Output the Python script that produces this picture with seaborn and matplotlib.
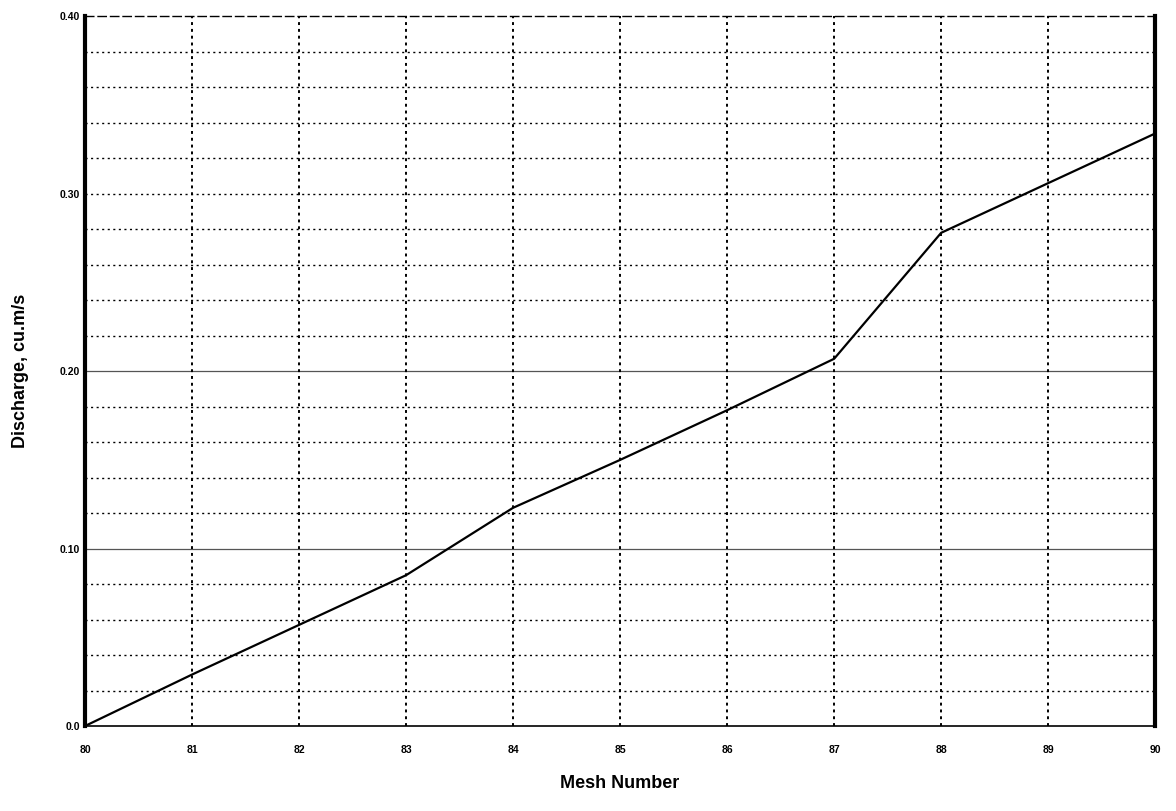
import numpy as np
import pandas as pd
import seaborn as sns
from matplotlib import pyplot as plt

sns.set_style("white")
plt.rcParams["font.family"] = ["Liberation Sans", "DejaVu Sans"]
plt.rcParams["text.color"] = "black"
plt.rcParams["axes.labelcolor"] = "black"
plt.rcParams["xtick.color"] = "black"
plt.rcParams["ytick.color"] = "black"

# values
mesh = [80, 81, 82, 83, 84, 85, 86, 87, 88, 89, 90]
discharge = [0.0, 0.029, 0.057, 0.085, 0.123, 0.150, 0.178, 0.207, 0.278, 0.306, 0.334]
ytick_vals = [0.0, 0.10, 0.20, 0.30, 0.40]
ytick_labels = ["0.0", "0.10", "0.20", "0.30", "0.40"]

df = pd.DataFrame({"Mesh Number": mesh, "Discharge": discharge})

fig = plt.figure(figsize=(11.76, 8.11), dpi=100)
ax = fig.add_axes([0.0723, 0.1048, 0.91, 0.875])

# grid: dotted minor lines every 0.02, solid at 0.10 and 0.20
for y in np.arange(0.02, 0.40, 0.02):
    if abs(y - 0.1) < 1e-6 or abs(y - 0.2) < 1e-6:
        ax.axhline(y, color="#555555", lw=0.9, zorder=1)
    else:
        ax.axhline(y, color="black", lw=1.0, ls=(0, (1.5, 2.5)), zorder=1)
for x in mesh[1:-1]:
    ax.axvline(x, color="black", lw=1.4, ls=(0, (1.5, 2.0)), zorder=1)

sns.lineplot(data=df, x="Mesh Number", y="Discharge", color="black", lw=1.6, ax=ax, zorder=3)

ax.set_xlim(80, 90)
ax.set_ylim(0, 0.40)
ax.set_xticks(mesh)
ax.set_xticklabels([str(m) for m in mesh], fontsize=7.5, fontweight="bold")
ax.set_yticks(ytick_vals)
ax.set_yticklabels(ytick_labels, fontsize=7.5, fontweight="bold")
ax.set_yticks(np.arange(0, 0.41, 0.02), minor=True)
ax.tick_params(axis="both", which="both", direction="in", length=4, width=1, color="black")
ax.tick_params(axis="x", pad=14)

ax.set_xlabel("Mesh Number", fontsize=13, fontweight="bold", labelpad=14)
ax.set_ylabel("Discharge, cu.m/s", fontsize=13, fontweight="bold", labelpad=22)

ax.spines["left"].set_linewidth(3)
ax.spines["right"].set_linewidth(3)
ax.spines["bottom"].set_linewidth(1.2)
ax.spines["top"].set_linewidth(1.0)
ax.spines["top"].set_linestyle((0, (6, 3)))
for s in ax.spines.values():
    s.set_color("black")

fig.savefig("out.png", dpi=100)
